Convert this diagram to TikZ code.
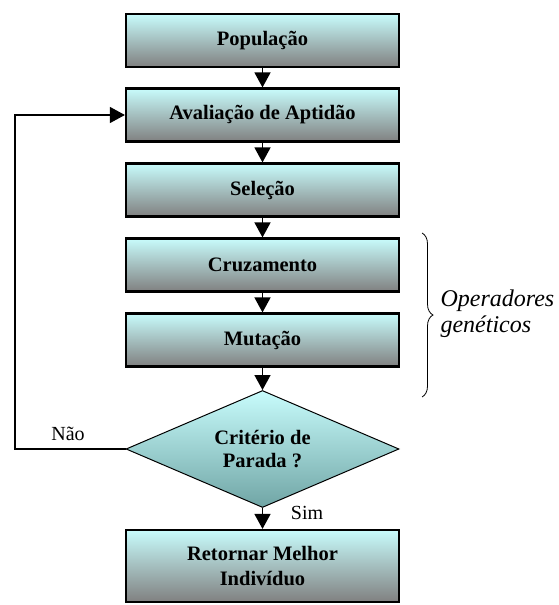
\documentclass[tikz,border=0pt]{standalone}
\usepackage{fontspec}
\setmainfont{Liberation Serif}
\usetikzlibrary{arrows.meta,shapes.geometric,decorations.pathreplacing}

\definecolor{boxtop}{RGB}{200,252,252}
\definecolor{boxbot}{RGB}{128,128,128}
\definecolor{dectop}{RGB}{200,252,252}
\definecolor{decbot}{RGB}{112,165,165}

\tikzset{
    stage/.style={rectangle, draw=black, line width=2.2pt, minimum width=273pt,
        minimum height=53pt, inner sep=0pt, top color=boxtop, bottom color=boxbot,
        align=center, font=\bfseries\fontsize{20.5}{25}\selectfont},
    decision/.style={diamond, draw=black, line width=1pt, aspect=2.33,
        minimum width=273pt, minimum height=117pt, inner sep=0pt,
        top color=dectop, bottom color=decbot,
        align=center, font=\bfseries\fontsize{20.5}{23}\selectfont},
    flow/.style={line width=1.5pt, -{Triangle[width=16pt,length=15pt]}},
    loopline/.style={line width=1.2pt, -{Triangle[width=16pt,length=15pt]}},
    answer/.style={font=\fontsize{20}{24}\selectfont}
}

\begin{document}
\begin{tikzpicture}[x=1pt,y=-1pt]
    % Fix the page to the size of the reference
    \useasboundingbox (0,0) rectangle (558,605);

    % The stages of the algorithm, one under the other
    \node[stage] (pop)  at (262.5,40.5) {População};
    \node[stage] (aval) at (262.5,115)  {Avaliação de Aptidão};
    \node[stage] (sel)  at (262.5,190)  {Seleção};
    \node[stage] (cruz) at (262.5,265)  {Cruzamento};
    \node[stage] (mut)  at (262.5,340)  {Mutação};

    % Stopping test and the final box
    \node[decision] (crit) at (262.5,449) {Critério de\\Parada ?};
    \node[stage, minimum height=72pt] (ret) at (262.5,566) {Retornar Melhor\\Indivíduo};

    % Arrows down the main column
    \draw[flow] (pop) -- (aval);
    \draw[flow] (aval) -- (sel);
    \draw[flow] (sel) -- (cruz);
    \draw[flow] (cruz) -- (mut);
    \draw[flow] (mut) -- (crit);
    \draw[flow] (crit) -- (ret);

    % Loop back when the test fails
    \coordinate (loop) at (15,449);
    \draw[loopline] (crit.west) -- (loop) |- (aval.west);

    % Answers of the test
    \node[answer] (nao) at (68,434) {Não};
    \node[answer] (sim) at (307,513) {Sim};

    % Brace over the genetic operators
    \coordinate (bracetop) at (422,233);
    \coordinate (bracebot) at (422,397);
    \draw[line width=0.8pt, decorate, decoration={brace, amplitude=11pt}] (bracetop) -- (bracebot);
    \node[anchor=west, align=left, font=\itshape\fontsize{24}{26}\selectfont] (ops) at (437,314)
        {Operadores\\ genéticos};

\end{tikzpicture}
\end{document}
